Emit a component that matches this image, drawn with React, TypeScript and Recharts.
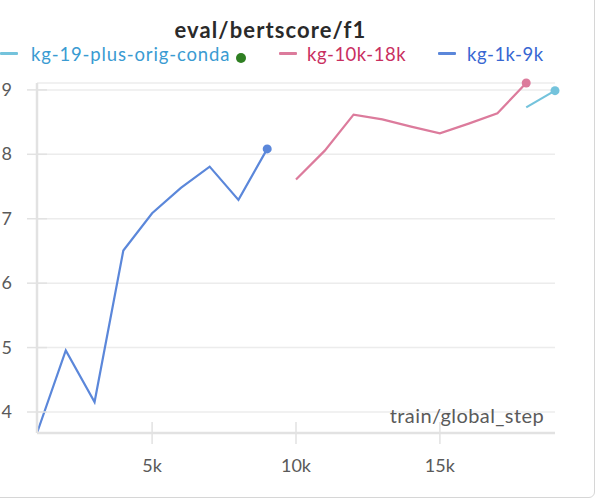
import { LineChart, Line, XAxis, YAxis, CartesianGrid, Label } from "recharts";

const blueSteps = [1000, 2000, 3000, 4000, 5000, 6000, 7000, 8000, 9000];
const blueValues = [0.83674, 0.84957, 0.84155, 0.86507, 0.87085, 0.87479, 0.87809, 0.87293, 0.88084];

const pinkSteps = [10000, 11000, 12000, 13000, 14000, 15000, 16000, 17000, 18000];
const pinkValues = [0.87608, 0.88057, 0.88616, 0.88543, 0.8843, 0.88326, 0.88476, 0.88636, 0.89107];

const cyanSteps = [18000, 19000];
const cyanValues = [0.88729, 0.88988];

const yTicks = [0.84, 0.85, 0.86, 0.87, 0.88, 0.89];
const xTicks = [5000, 10000, 15000];

const FONT = "Lato, 'DejaVu Sans', sans-serif";
const Y_AXIS_WIDTH = 37;

const toRows = (steps: number[], values: number[]) =>
  steps.map((step, i) => ({ step, value: values[i] }));

const blueData = toRows(blueSteps, blueValues);
const pinkData = toRows(pinkSteps, pinkValues);
const cyanData = toRows(cyanSteps, cyanValues);

const allValues = [...blueValues, ...pinkValues, ...cyanValues];
const allSteps = [...blueSteps, ...pinkSteps, ...cyanSteps];

const legendItems = [
  { name: "kg-19-plus-orig-conda", line: "#74c3dc", text: "#3a9bd2", left: 0, textLeft: 31, spacing: 0.85 },
  { name: "kg-10k-18k", line: "#dc7b9c", text: "#c92f5f", left: 279, textLeft: 307, spacing: 0.5 },
  { name: "kg-1k-9k", line: "#5b87da", text: "#3867d2", left: 438, textLeft: 467, spacing: 0.5 },
];

// only the last point of each run gets a marker
const lastDot = (color: string, lastIndex: number) => (props: any) => {
  const { cx, cy, index } = props;
  if (index !== lastIndex) return <g key={`d-${index}`} />;
  return <circle key={`d-${index}`} cx={cx} cy={cy} r={4.5} fill={color} stroke="none" />;
};

// the panel is cropped on the left, so only the last digit of each label shows
const YTick = (props: any) => {
  const { y, payload } = props;
  const label = payload.value.toFixed(2).slice(-1);
  const ax = Y_AXIS_WIDTH;
  return (
    <g>
      <line x1={ax - 10} x2={ax + 10} y1={y} y2={y} stroke="#e2e2e2" strokeWidth={1.5} />
      <text x={ax - 25} y={y} dy={6} textAnchor="end" fill="#5a5a5a" fontSize={18}>
        {label}
      </text>
    </g>
  );
};

const XTick = (props: any) => {
  const { x, y, payload } = props;
  return (
    <g>
      <line x1={x} x2={x} y1={y - 11} y2={y + 11} stroke="#e2e2e2" strokeWidth={1.5} />
      <text x={x} y={y + 39} textAnchor="middle" fill="#5a5a5a" fontSize={18}>
        {`${payload.value / 1000}k`}
      </text>
    </g>
  );
};

const AxisTitle = (props: any) => {
  const { viewBox } = props;
  return (
    <text
      x={viewBox.x + viewBox.width - 11}
      y={viewBox.y - 10}
      textAnchor="end"
      fill="#5a5a5a"
      fontSize={20}
      letterSpacing={0.4}
    >
      train/global_step
    </text>
  );
};

export default function App() {
  return (
    <div
      style={{
        position: "fixed",
        left: 0,
        top: 0,
        width: 596,
        height: 500,
        overflow: "hidden",
        background: "#fff",
        fontFamily: FONT,
      }}
    >
      <div
        style={{
          position: "absolute",
          left: -10,
          top: -10,
          width: 605,
          height: 508,
          boxSizing: "border-box",
          border: "1px solid #d6d6d6",
          borderRadius: 6,
        }}
      />
      <div
        style={{
          position: "absolute",
          left: 140,
          width: 261,
          top: 15,
          textAlign: "center",
          fontSize: 22,
          letterSpacing: 1.1,
          fontWeight: 700,
          color: "#2a2a2a",
          lineHeight: "29px",
        }}
      >
        eval/bertscore/f1
      </div>
      {legendItems.map((item) => (
        <div key={item.name}>
          <div
            style={{
              position: "absolute",
              left: item.left,
              top: 52,
              width: 18,
              height: 3,
              background: item.line,
              borderRadius: 1,
            }}
          />
          <div
            style={{
              position: "absolute",
              left: item.textLeft,
              top: 42,
              fontSize: 18.5,
              letterSpacing: item.spacing,
              lineHeight: "24px",
              color: item.text,
              whiteSpace: "nowrap",
            }}
          >
            {item.name}
          </div>
        </div>
      ))}
      <div
        style={{
          position: "absolute",
          left: 236,
          top: 53,
          width: 10,
          height: 10,
          borderRadius: "50%",
          background: "#2f7f22",
        }}
      />
      <div style={{ position: "absolute", left: 0, top: 0 }}>
        <LineChart width={596} height={500} margin={{ top: 83, right: 41, bottom: 37, left: 0 }}>
          <CartesianGrid vertical={false} stroke="#ececec" strokeWidth={1.5} />
          <XAxis
            dataKey="step"
            type="number"
            domain={[Math.min(...allSteps), Math.max(...allSteps)]}
            ticks={xTicks}
            height={30}
            tickLine={false}
            tickSize={0}
            tickMargin={0}
            tick={<XTick />}
            axisLine={{ stroke: "#e2e2e2", strokeWidth: 2.5 }}
            allowDuplicatedCategory={false}
          >
            <Label content={<AxisTitle />} />
          </XAxis>
          <YAxis
            type="number"
            width={Y_AXIS_WIDTH}
            domain={[Math.min(...allValues), Math.max(...allValues)]}
            ticks={yTicks}
            tickLine={false}
            tickSize={0}
            tickMargin={0}
            tick={<YTick />}
            axisLine={{ stroke: "#e2e2e2", strokeWidth: 2.5 }}
          />
          <Line
            data={blueData}
            dataKey="value"
            name="kg-1k-9k"
            type="linear"
            stroke="#5b87da"
            strokeWidth={2.2}
            dot={lastDot("#5b87da", blueData.length - 1)}
            activeDot={false}
            isAnimationActive={false}
          />
          <Line
            data={pinkData}
            dataKey="value"
            name="kg-10k-18k"
            type="linear"
            stroke="#dc7b9c"
            strokeWidth={2.2}
            dot={lastDot("#dc7b9c", pinkData.length - 1)}
            activeDot={false}
            isAnimationActive={false}
          />
          <Line
            data={cyanData}
            dataKey="value"
            name="kg-19-plus-orig-conda"
            type="linear"
            stroke="#74c3dc"
            strokeWidth={2.2}
            dot={lastDot("#74c3dc", cyanData.length - 1)}
            activeDot={false}
            isAnimationActive={false}
          />
        </LineChart>
      </div>
    </div>
  );
}
